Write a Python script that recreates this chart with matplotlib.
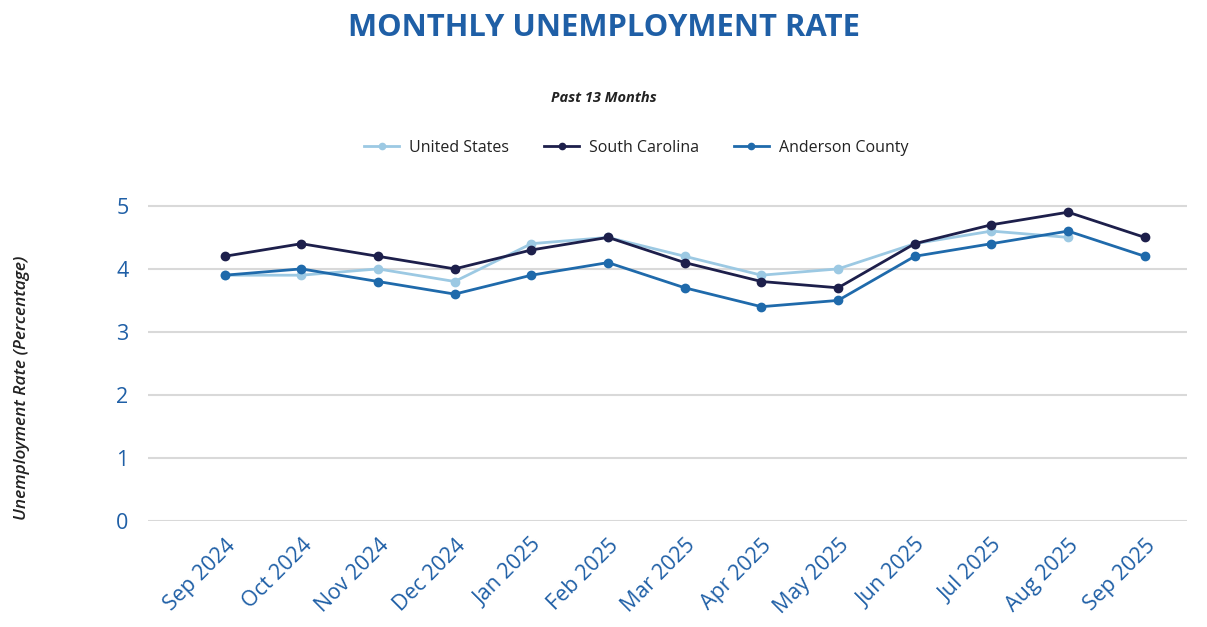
import numpy as np
import matplotlib
matplotlib.use("Agg")
import matplotlib.pyplot as plt

months = ["Sep 2024", "Oct 2024", "Nov 2024", "Dec 2024", "Jan 2025", "Feb 2025",
          "Mar 2025", "Apr 2025", "May 2025", "Jun 2025", "Jul 2025", "Aug 2025", "Sep 2025"]
united_states = [3.9, 3.9, 4.0, 3.8, 4.4, 4.5, 4.2, 3.9, 4.0, 4.4, 4.6, 4.5, np.nan]
south_carolina = [4.2, 4.4, 4.2, 4.0, 4.3, 4.5, 4.1, 3.8, 3.7, 4.4, 4.7, 4.9, 4.5]
anderson_county = [3.9, 4.0, 3.8, 3.6, 3.9, 4.1, 3.7, 3.4, 3.5, 4.2, 4.4, 4.6, 4.2]
yticks = [0, 1, 2, 3, 4, 5]

plt.rcParams['font.family'] = ['Open Sans', 'DejaVu Sans']

fig = plt.figure(figsize=(12.07, 6.27), dpi=100)
ax = fig.add_axes([0.1226, 0.1691, 0.8608, 0.5327])

x = np.arange(len(months))
c_us = "#9cc9e3"
c_sc = "#1d1f4b"
c_ac = "#1f6aab"
ax.plot(x, united_states, color=c_us, lw=2, marker='o', ms=6, label="United States", zorder=3)
ax.plot(x, south_carolina, color=c_sc, lw=2, marker='o', ms=6, label="South Carolina", zorder=4)
ax.plot(x, anderson_county, color=c_ac, lw=2, marker='o', ms=6, label="Anderson County", zorder=5)

ax.set_xlim(-1, 12.55)
ax.set_ylim(0, 5.3)
ax.set_yticks(yticks)
ax.set_yticklabels([str(v) for v in yticks])
ax.set_xticks(x)
ax.set_xticklabels(months, rotation=45, ha='right', rotation_mode='anchor')
ax.tick_params(axis='y', length=0, labelsize=15.5, pad=14)
ax.tick_params(axis='x', length=0, labelsize=15.5, pad=10)
for lbl in ax.get_xticklabels() + ax.get_yticklabels():
    lbl.set_color('#1f5fa6')
for s in ax.spines.values():
    s.set_visible(False)
ax.grid(axis='y', color='#d9d9d9', lw=1.5)
ax.set_axisbelow(True)

fig.text(0.012, 1 - 388 / 627, "Unemployment Rate (Percentage)", rotation=90,
         fontsize=12.5, style='italic', fontweight='semibold', color='#222222',
         ha='left', va='center')

fig.text(0.5, 1 - 28 / 627, "MONTHLY UNEMPLOYMENT RATE", fontsize=22.3, fontweight='bold',
         color='#1f5fa6', ha='center', va='center')
fig.text(0.5, 1 - 98 / 627, "Past 13 Months", fontsize=10.5, fontweight='bold', style='italic',
         color='#222222', ha='center', va='center')

leg = fig.legend(loc='center', bbox_to_anchor=(0.527, 1 - 148 / 627), ncol=3, frameon=False,
                 fontsize=11.5, handlelength=2.2, columnspacing=2.2, handletextpad=0.6,
                 markerscale=0.75)
for t in leg.get_texts():
    t.set_color('#222222')

fig.savefig("out.png", dpi=100)
